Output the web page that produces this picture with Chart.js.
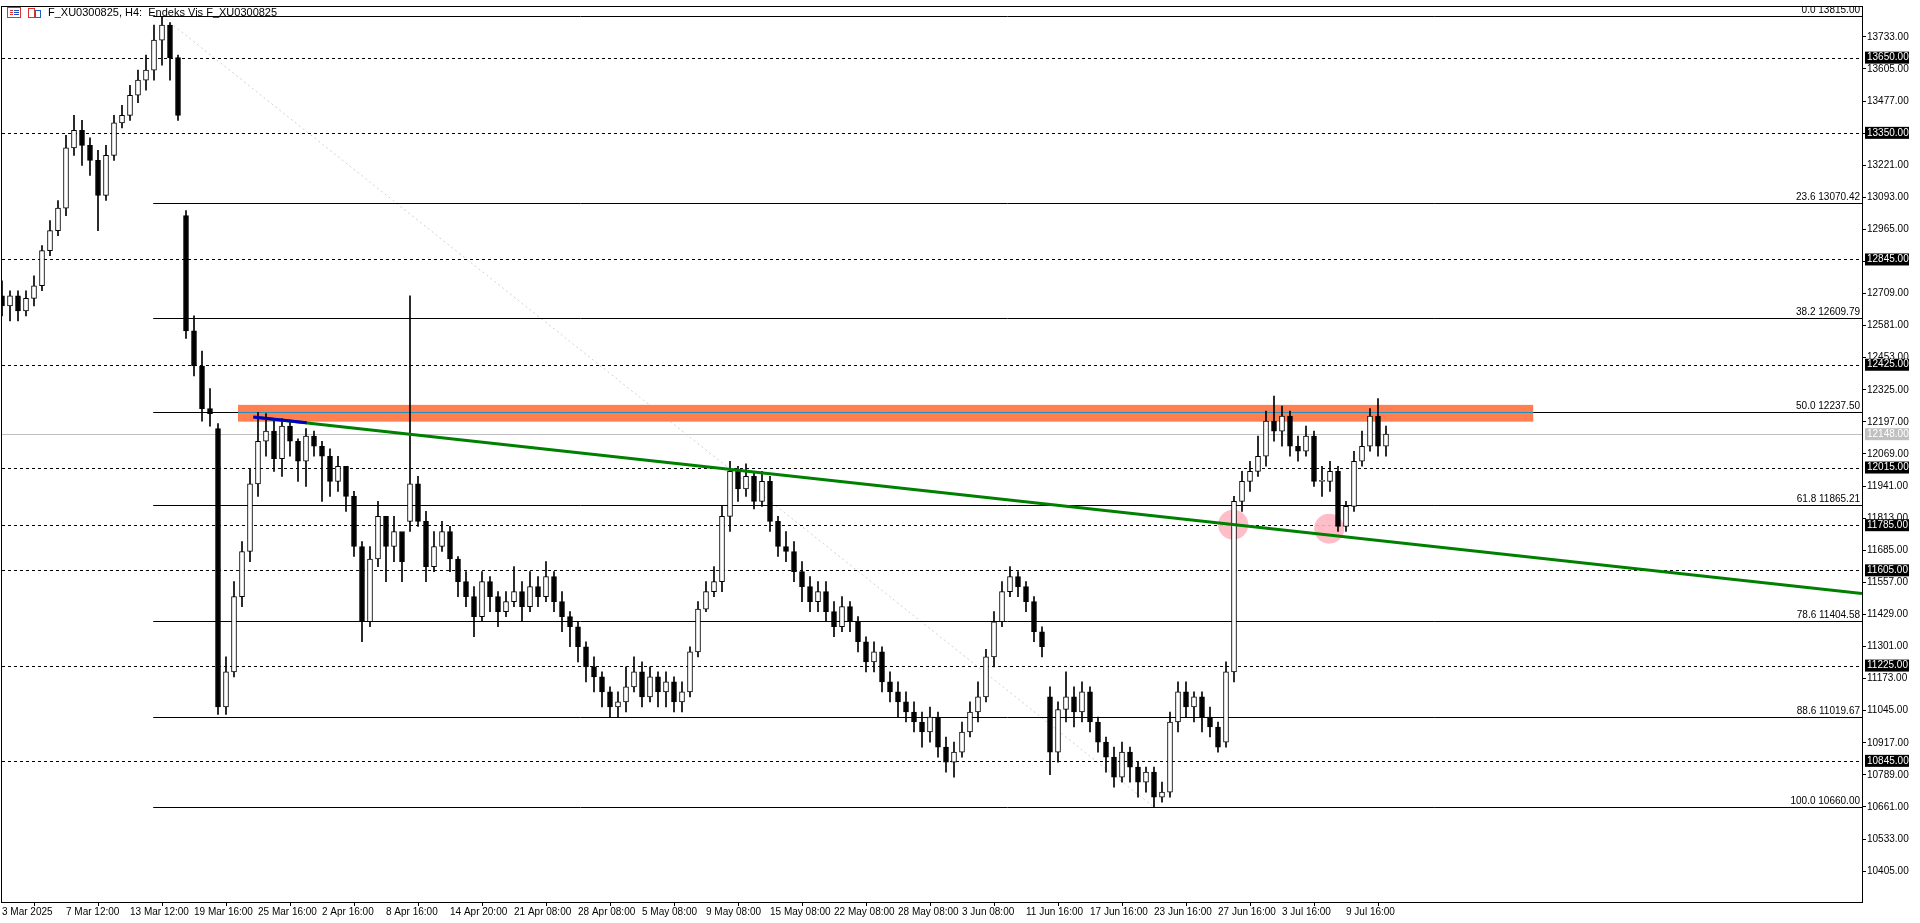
<!DOCTYPE html>
<html><head><meta charset="utf-8">
<script src="https://cdn.jsdelivr.net/npm/chart.js@4.4.1/dist/chart.umd.min.js"></script>
<style>html,body{margin:0;padding:0;background:#fff;overflow:hidden}#wrap{width:1920px;height:923px}</style>
</head><body><div id="wrap"><canvas id="c"></canvas></div>
<script>
const timeLabels=["3 Mar 2025","7 Mar 12:00","13 Mar 12:00","19 Mar 16:00","25 Mar 16:00","2 Apr 16:00","8 Apr 16:00","14 Apr 20:00","21 Apr 08:00","28 Apr 08:00","5 May 08:00","9 May 08:00","15 May 08:00","22 May 08:00","28 May 08:00","3 Jun 08:00","11 Jun 16:00","17 Jun 16:00","23 Jun 16:00","27 Jun 16:00","3 Jul 16:00","9 Jul 16:00"];
const timeLabelIdx=[0,8,16,24,32,40,48,56,64,72,80,88,96,104,112,120,128,136,144,152,160,168];
const priceTicks=[10405,10533,10661,10789,10917,11045,11173,11301,11429,11557,11685,11813,11941,12069,12197,12325,12453,12581,12709,12837,12965,13093,13221,13349,13477,13605,13733];
const opens=[12700,12660,12700,12640,12690,12740,12880,12960,13050,13290,13360,13300,13240,13100,13260,13390,13420,13500,13560,13600,13720,13780,13650,13020,12560,12420,12250,12170,11060,11200,11500,11680,11950,12120,12160,12050,12180,12120,12040,12140,12100,12060,11960,12020,11900,11700,11400,11650,11820,11700,11760,11800,11950,11800,11620,11700,11760,11650,11560,11500,11420,11560,11500,11440,11480,11520,11460,11540,11500,11580,11480,11420,11380,11300,11220,11180,11120,11060,11080,11140,11200,11100,11180,11120,11160,11080,11120,11280,11450,11520,11560,11820,12000,11930,11980,11880,11960,11800,11700,11680,11600,11540,11480,11520,11440,11380,11460,11400,11320,11240,11280,11160,11120,11080,11040,11000,10960,11020,10900,10840,10880,10960,11040,11100,11260,11400,11520,11580,11540,11480,11360,11100,10880,11050,11100,11040,11120,11000,10920,10860,10780,10880,10820,10760,10800,10700,10720,11000,11120,11060,11100,11020,10980,10920,11200,11880,11960,12000,12060,12200,12160,12220,12100,12080,12140,11960,11960,12000,11780,11860,12040,12100,12220,12100];
const highs=[12760,12720,12720,12720,12780,12900,13000,13080,13340,13420,13400,13330,13280,13300,13420,13460,13540,13600,13660,13780,13815,13790,13660,13040,12620,12480,12330,12190,11260,11560,11720,12010,12235,12230,12200,12210,12200,12130,12170,12160,12120,12090,12060,11960,11920,11720,11700,11880,11780,11820,11700,12700,11980,11840,11760,11800,11780,11660,11600,11540,11600,11580,11520,11520,11620,11560,11600,11580,11640,11600,11520,11440,11400,11320,11260,11200,11140,11120,11220,11260,11240,11220,11200,11200,11180,11160,11300,11480,11560,11620,11860,12040,12020,12030,12000,12000,11980,11820,11760,11720,11640,11580,11560,11560,11480,11500,11480,11420,11340,11320,11300,11200,11160,11120,11080,11040,11060,11040,10940,10920,11000,11080,11160,11290,11440,11560,11620,11600,11560,11500,11380,11140,11080,11200,11140,11160,11140,11020,10940,10900,10920,10900,10840,10820,10820,10760,11040,11160,11160,11120,11120,11060,11000,11240,11900,12000,12040,12140,12240,12300,12260,12240,12140,12180,12160,12020,12040,12020,11880,12080,12160,12250,12290,12180];
const lows=[12620,12600,12600,12620,12660,12720,12860,12940,13020,13260,13220,13180,12960,13080,13240,13370,13400,13470,13520,13560,13620,13560,13400,12530,12380,12200,12180,11030,11030,11180,11460,11640,11900,12060,12000,11980,12060,11960,11940,12060,11880,11900,11920,11840,11660,11320,11380,11620,11560,11640,11560,11760,11780,11560,11600,11680,11600,11500,11460,11340,11400,11440,11380,11420,11460,11400,11440,11460,11480,11440,11360,11300,11240,11160,11120,11060,11020,11020,11040,11120,11060,11080,11060,11060,11040,11040,11100,11260,11440,11500,11520,11760,11880,11900,11850,11860,11760,11660,11640,11560,11480,11440,11440,11400,11340,11360,11360,11280,11200,11200,11120,11080,11020,11000,10960,10900,10920,10860,10800,10780,10860,10940,11000,11080,11220,11380,11500,11500,11440,11320,11260,10790,10840,11000,10980,11000,10960,10880,10800,10740,10760,10760,10700,10720,10660,10680,10700,10960,11020,11000,10960,10940,10880,10900,11160,11840,11920,11980,12020,12120,12100,12060,12040,12060,11940,11900,11920,11760,11760,11840,12020,12080,12060,12060];
const closes=[12660,12700,12640,12690,12740,12880,12960,13050,13290,13360,13300,13240,13100,13260,13390,13420,13500,13560,13600,13720,13780,13650,13420,12560,12420,12250,12230,11060,11200,11500,11680,11950,12120,12160,12050,12180,12120,12040,12140,12100,12060,11960,12020,11900,11700,11400,11650,11820,11700,11760,11640,11950,11800,11620,11700,11760,11650,11560,11500,11420,11560,11500,11440,11480,11520,11460,11540,11500,11580,11480,11420,11380,11300,11220,11180,11120,11060,11080,11140,11200,11100,11180,11120,11160,11080,11120,11280,11450,11520,11560,11820,12000,11930,11980,11880,11960,11800,11700,11680,11600,11540,11480,11520,11440,11380,11460,11400,11320,11240,11280,11160,11120,11080,11040,11000,10960,11020,10900,10840,10880,10960,11040,11100,11260,11400,11520,11580,11540,11480,11360,11300,10880,11050,11100,11040,11120,11000,10920,10860,10780,10880,10820,10760,10800,10700,10720,11000,11120,11060,11100,11020,10980,10900,11200,11880,11960,12000,12060,12200,12160,12220,12100,12080,12140,11960,11960,12000,11780,11860,12040,12100,12220,12100,12148];
const levelLines=[13650,13350,12845,12425,12015,11785,11605,11225,10845];
const fibLevels=[0.0,23.6,38.2,50.0,61.8,78.6,88.6,100.0];
const fibPrices=[13815.00,13070.42,12609.79,12237.50,11865.21,11404.58,11019.67,10660.00];
const lastPrice=12148;
const zoneLow=12198, zoneHigh=12265, zoneStart=29.5, zoneEnd=191.4;
const trendPts=[[31.6,12216],[232.5,11513]];
const bluePart=[31.4,38.1];
const circles=[[153.9,11787],[165.9,11771]];
const fibDiag=[[20,13815],[144,10660]];
const fibStart=18.9;

const FONT='"Liberation Sans", Arial, sans-serif';
const wickData=lows.map((l,i)=>({x:i,y:[l,highs[i]]}));
const bodyData=opens.map((o,i)=>({x:i,y:[Math.min(o,closes[i]),Math.max(o,closes[i])===Math.min(o,closes[i])?Math.min(o,closes[i])+4:Math.max(o,closes[i])]}));
const bodyFill=opens.map((o,i)=>closes[i]>=o?'#ffffff':'#000000');

const overlay={id:'overlay',
 beforeDatasetsDraw(ch){
  const {ctx,chartArea:a,scales:{x,y}}=ch;
  ctx.save();
  ctx.beginPath();ctx.rect(a.left,a.top,a.right-a.left,a.bottom-a.top);ctx.clip();
  // diag dotted
  ctx.strokeStyle='#d0d0d0';ctx.lineWidth=1;ctx.setLineDash([2,3]);
  ctx.beginPath();ctx.moveTo(x.getPixelForValue(fibDiag[0][0]),y.getPixelForValue(fibDiag[0][1]));
  ctx.lineTo(x.getPixelForValue(fibDiag[1][0]),y.getPixelForValue(fibDiag[1][1]));ctx.stroke();
  // dashed levels
  ctx.strokeStyle='#000';ctx.setLineDash([3,3]);
  levelLines.forEach(v=>{const py=Math.round(y.getPixelForValue(v))+0.5;ctx.beginPath();ctx.moveTo(a.left,py);ctx.lineTo(a.right,py);ctx.stroke();});
  ctx.setLineDash([]);
  // current price
  ctx.strokeStyle='#c0c0c0';const pp=Math.round(y.getPixelForValue(lastPrice))+0.5;
  ctx.beginPath();ctx.moveTo(a.left,pp);ctx.lineTo(a.right,pp);ctx.stroke();
  // fib lines
  ctx.strokeStyle='#000';ctx.fillStyle='#000';ctx.font='10px '+FONT;ctx.textAlign='right';ctx.textBaseline='bottom';
  const fx=x.getPixelForValue(fibStart);
  fibPrices.forEach((v,k)=>{const py=Math.round(y.getPixelForValue(v))+0.5;ctx.beginPath();ctx.moveTo(fx,py);ctx.lineTo(a.right,py);ctx.stroke();
   ctx.fillText(fibLevels[k].toFixed(1)+' '+v.toFixed(2),a.right-2,py-1);});
  // zone
  const zx0=x.getPixelForValue(zoneStart),zx1=x.getPixelForValue(zoneEnd);
  const zy0=y.getPixelForValue(zoneHigh),zy1=y.getPixelForValue(zoneLow);
  ctx.fillStyle='#ff7f50';ctx.fillRect(zx0,zy0,zx1-zx0,zy1-zy0);
  ctx.strokeStyle='#1e90c0';const fy=Math.round(y.getPixelForValue(fibPrices[3]))+0.5;
  ctx.beginPath();ctx.moveTo(zx0,fy);ctx.lineTo(zx1,fy);ctx.stroke();
  // circles
  ctx.fillStyle='rgba(255,182,193,0.9)';
  circles.forEach(c=>{ctx.beginPath();ctx.arc(x.getPixelForValue(c[0]),y.getPixelForValue(c[1]),15,0,Math.PI*2);ctx.fill();});
  ctx.restore();
 },
 afterDatasetsDraw(ch){
  const {ctx,chartArea:a,scales:{x,y}}=ch;
  ctx.save();
  ctx.beginPath();ctx.rect(a.left,a.top,a.right-a.left,a.bottom-a.top);ctx.clip();
  const slope=(trendPts[1][1]-trendPts[0][1])/(trendPts[1][0]-trendPts[0][0]);
  const tv=i=>trendPts[0][1]+slope*(i-trendPts[0][0]);
  ctx.lineWidth=3;ctx.strokeStyle='#008000';
  ctx.beginPath();ctx.moveTo(x.getPixelForValue(trendPts[0][0]),y.getPixelForValue(trendPts[0][1]));
  ctx.lineTo(x.getPixelForValue(trendPts[1][0]),y.getPixelForValue(trendPts[1][1]));ctx.stroke();
  ctx.strokeStyle='#0000c0';
  ctx.beginPath();ctx.moveTo(x.getPixelForValue(bluePart[0]),y.getPixelForValue(tv(bluePart[0])));
  ctx.lineTo(x.getPixelForValue(bluePart[1]),y.getPixelForValue(tv(bluePart[1])));ctx.stroke();
  ctx.restore();
  ctx.save();
  // frame
  ctx.strokeStyle='#000';ctx.lineWidth=1;
  ctx.strokeRect(a.left-0.5,a.top-0.5,a.right-a.left+1,a.bottom-a.top+1);
  // axis highlight boxes
  ctx.font='10px '+FONT;ctx.textBaseline='middle';ctx.textAlign='left';
  const box=(v,bg,fg)=>{const py=y.getPixelForValue(v);ctx.fillStyle=bg;ctx.fillRect(a.right+3,py-6,44,12);ctx.fillStyle=fg;ctx.fillText(v.toFixed(2),a.right+5,py);};
  levelLines.forEach(v=>box(v,'#000','#fff'));
  box(lastPrice,'#c0c0c0','#fff');
  // header
  ctx.fillStyle='#fff';ctx.strokeStyle='#e03030';ctx.strokeRect(7.5,7.5,13,10);
  ctx.fillStyle='#e03030';ctx.fillRect(10,10,3,1);ctx.fillRect(10,12,3,1);ctx.fillRect(10,14,3,1);
  ctx.fillStyle='#2050c0';ctx.fillRect(14,10,5,1);ctx.fillRect(14,12,5,1);ctx.fillRect(14,14,5,1);
  ctx.strokeStyle='#e03030';ctx.strokeRect(28.5,8.5,6,9);ctx.strokeStyle='#2060c0';ctx.strokeRect(35.5,10.5,5,7);
  ctx.fillStyle='#000';ctx.font='11px '+FONT;ctx.textBaseline='middle';
  ctx.fillText('F_XU0300825, H4:  Endeks Vis F_XU0300825',48,13);
  ctx.restore();
 }};

new Chart(document.getElementById('c'),{
 data:{datasets:[
  {type:'bar',data:wickData,backgroundColor:'#000',borderWidth:0,barThickness:1,grouped:false,order:2},
  {type:'bar',data:bodyData,backgroundColor:bodyFill,borderColor:'#000',borderWidth:1,borderSkipped:false,barThickness:5,grouped:false,order:1}
 ]},
 options:{responsive:true,maintainAspectRatio:false,animation:false,
  layout:{padding:{top:3,left:2,right:0,bottom:0}},
  plugins:{legend:{display:false},tooltip:{enabled:false}},
  scales:{
   x:{type:'linear',min:0,max:232.5,offset:false,
    afterBuildTicks:s=>{s.ticks=timeLabelIdx.map(v=>({value:v}));},
    afterFit:s=>{s.height=21;},
    grid:{display:true,drawOnChartArea:false,drawTicks:true,tickLength:4,color:'#000'},
    border:{display:true,color:'#000'},
    ticks:{autoSkip:false,maxRotation:0,align:'start',padding:0,color:'#000',font:{family:FONT,size:10},
     callback:v=>{const k=timeLabelIdx.indexOf(v);return k>=0?timeLabels[k]:'';}}},
   y:{type:'linear',position:'right',min:10282,max:13852,
    afterBuildTicks:s=>{s.ticks=priceTicks.map(v=>({value:v}));},
    afterFit:s=>{s.width=58;},
    grid:{display:true,drawOnChartArea:false,drawTicks:true,tickLength:4,color:'#000'},
    border:{display:true,color:'#000'},
    ticks:{padding:1,color:'#000',font:{family:FONT,size:10},callback:v=>Number(v).toFixed(2)}}
  }},
 plugins:[overlay]
});
</script></body></html>
